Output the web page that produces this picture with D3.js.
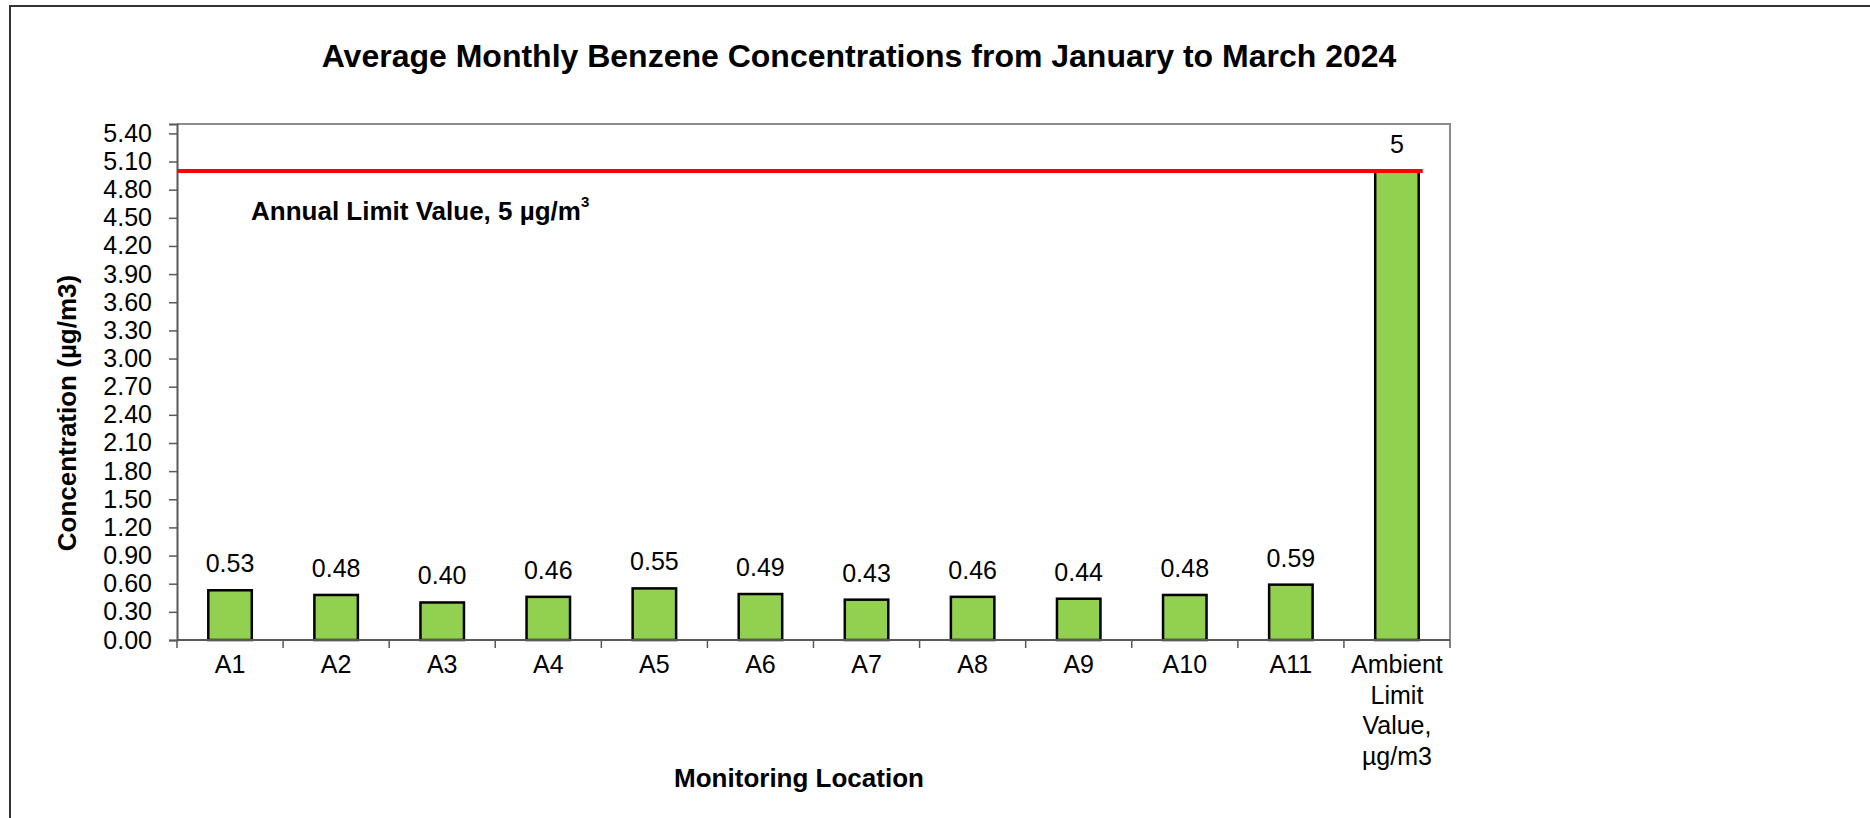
<!DOCTYPE html>
<html>
<head>
<meta charset="utf-8">
<script src="https://cdn.jsdelivr.net/npm/d3@7"></script>
<style>
    body { margin: 0; background: #ffffff; }
    svg { display: block; font-family: "Liberation Sans", Arial, sans-serif; }
</style>
</head>
<body>
<section></section>
<script>

// Data.
var locations = ["A1", "A2", "A3", "A4", "A5", "A6", "A7", "A8", "A9", "A10", "A11", "Ambient Limit Value, µg/m3"]
var concentrations = [0.53, 0.48, 0.40, 0.46, 0.55, 0.49, 0.43, 0.46, 0.44, 0.48, 0.59, 5]
var valueLabels = ["0.53", "0.48", "0.40", "0.46", "0.55", "0.49", "0.43", "0.46", "0.44", "0.48", "0.59", "5"]
var yTicks = [0, 0.3, 0.6, 0.9, 1.2, 1.5, 1.8, 2.1, 2.4, 2.7, 3.0, 3.3, 3.6, 3.9, 4.2, 4.5, 4.8, 5.1, 5.4]
var annualLimit = 5

// Wrapped lines for the long category name.
var categoryLines = {
    "Ambient Limit Value, µg/m3": ["Ambient", "Limit", "Value,", "µg/m3"]
}

function plotData() {

    // Setup size.
    var totalWidth = 1870
    var totalHeight = 818
    var margin = { top: 124, right: 420, bottom: 178, left: 177 }
    var width = totalWidth - margin.left - margin.right
    var height = totalHeight - margin.top - margin.bottom

    var data = locations.map(function (d, i) {
        return { location: d, value: concentrations[i], label: valueLabels[i] }
    })

    // Setup x dimension.
    var xScale = d3.scaleBand()
        .domain(locations)
        .range([0, width])
        .paddingInner(0.59)
        .paddingOuter(0.295)

    // Setup y dimension.
    var yScale = d3.scaleLinear().domain([0, 5.5]).range([height, 0])
    var yAxis = d3.axisLeft(yScale)
        .tickValues(yTicks)
        .tickSize(8)
        .tickPadding(17)
        .tickFormat(d3.format(".2f"))

    var root = d3.select("section")
        .append("svg")
        .attr("width", totalWidth)
        .attr("height", totalHeight)

    // Outer chart frame (only left and top edges are in view).
    root.append("path")
        .attr("d", "M10," + totalHeight + "V6H" + totalWidth)
        .attr("fill", "none")
        .attr("stroke", "#333333")
        .attr("stroke-width", 2)

    // Title.
    root.append("text")
        .attr("x", 859)
        .attr("y", 67)
        .attr("text-anchor", "middle")
        .style("font-size", "32px")
        .style("font-weight", "bold")
        .text("Average Monthly Benzene Concentrations from January to March 2024")

    var svg = root.append("g")
        .attr("transform", "translate(" + margin.left + "," + margin.top + ")")

    // Plot area border (top and right).
    svg.append("path")
        .attr("d", "M0,0H" + width + "V" + height)
        .attr("fill", "none")
        .attr("stroke", "#8c8c8c")
        .attr("stroke-width", 2)

    // Y axis.
    var gy = svg.append("g")
        .attr("class", "y axis")
        .call(yAxis)
    gy.select(".domain").attr("stroke", "#595959").attr("stroke-width", 2)
    gy.selectAll(".tick line").attr("stroke", "#595959").attr("stroke-width", 1.5)
    gy.selectAll(".tick text")
        .style("font-size", "25px")
        .style("font-family", "'Liberation Sans', Arial, sans-serif")
        .attr("fill", "#000")

    // Bars.
    svg.selectAll(".bar")
        .data(data)
        .enter()
        .append("rect")
        .attr("class", "bar")
        .attr("x", function (d) { return xScale(d.location) })
        .attr("y", function (d) { return yScale(d.value) })
        .attr("width", xScale.bandwidth())
        .attr("height", function (d) { return height - yScale(d.value) })
        .attr("fill", "#92d050")
        .attr("stroke", "#000000")
        .attr("stroke-width", 2.5)

    // X axis line and category boundary ticks.
    var gap = (xScale.step() - xScale.bandwidth()) / 2
    var boundaries = locations.map(function (d) { return xScale(d) - gap })
    boundaries.push(width)

    svg.append("line")
        .attr("x1", 0).attr("x2", width)
        .attr("y1", height).attr("y2", height)
        .attr("stroke", "#595959")
        .attr("stroke-width", 2)

    svg.selectAll(".xtick")
        .data(boundaries)
        .enter()
        .append("line")
        .attr("class", "xtick")
        .attr("x1", function (d) { return d }).attr("x2", function (d) { return d })
        .attr("y1", height).attr("y2", height + 8)
        .attr("stroke", "#595959")
        .attr("stroke-width", 1.5)

    // Category labels.
    var catText = svg.selectAll(".cat")
        .data(data)
        .enter()
        .append("text")
        .attr("class", "cat")
        .attr("text-anchor", "middle")
        .attr("x", function (d) { return xScale(d.location) + xScale.bandwidth() / 2 })
        .attr("y", height + 33)
        .style("font-size", "25px")

    catText.each(function (d) {
        var lines = categoryLines[d.location] || [d.location]
        var t = d3.select(this)
        lines.forEach(function (line, i) {
            t.append("tspan")
                .attr("x", xScale(d.location) + xScale.bandwidth() / 2)
                .attr("dy", i === 0 ? 0 : 30.7)
                .text(line)
        })
    })

    // Value labels above bars.
    svg.selectAll(".vlabel")
        .data(data)
        .enter()
        .append("text")
        .attr("class", "vlabel")
        .attr("text-anchor", "middle")
        .attr("x", function (d) { return xScale(d.location) + xScale.bandwidth() / 2 })
        .attr("y", function (d) { return yScale(d.value) - 18 })
        .style("font-size", "25px")
        .text(function (d) { return d.label })

    // Annual limit line.
    var last = locations[locations.length - 1]
    svg.append("line")
        .attr("x1", 0)
        .attr("x2", xScale(last) + xScale.bandwidth() + 4)
        .attr("y1", yScale(annualLimit))
        .attr("y2", yScale(annualLimit))
        .attr("stroke", "#ff0000")
        .attr("stroke-width", 4)

    // Annual limit annotation.
    var note = svg.append("text")
        .attr("x", 74)
        .attr("y", 96)
        .style("font-size", "26px")
        .style("font-weight", "bold")
    note.append("tspan").text("Annual Limit Value, 5 µg/m")
    note.append("tspan")
        .attr("dy", -13)
        .style("font-size", "15px")
        .text("3")

    // Axis titles.
    root.append("text")
        .attr("transform", "translate(76,413) rotate(-90)")
        .attr("text-anchor", "middle")
        .style("font-size", "26px")
        .style("font-weight", "bold")
        .text("Concentration (µg/m3)")

    root.append("text")
        .attr("x", 799)
        .attr("y", 787)
        .attr("text-anchor", "middle")
        .style("font-size", "26px")
        .style("font-weight", "bold")
        .text("Monitoring Location")
}

plotData()
</script>
</body>
</html>
